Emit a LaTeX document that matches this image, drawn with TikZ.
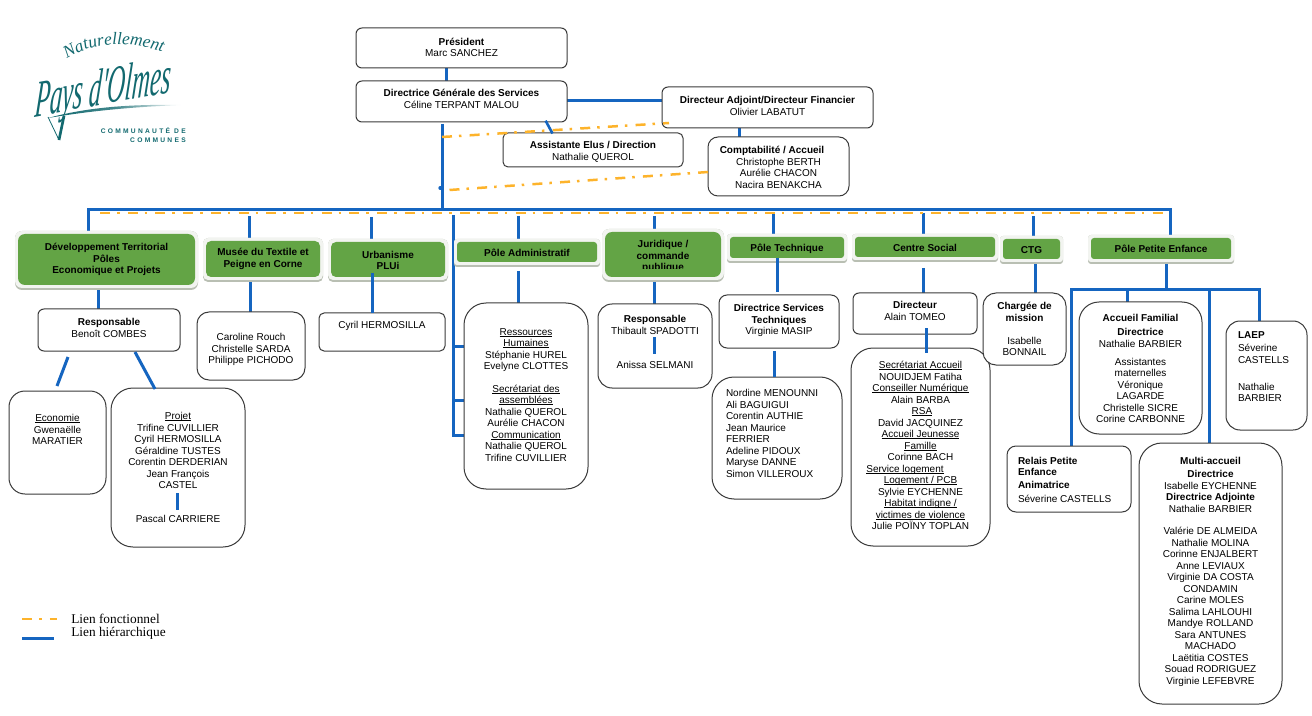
\documentclass[tikz,border=0pt]{standalone}
\usepackage{fontspec}
\setmainfont{Liberation Sans}
\newfontfamily\srf{Liberation Serif}
\usetikzlibrary{decorations.text}
\pgfdeclarelayer{bg}\pgfdeclarelayer{fg}\pgfsetlayers{bg,main,fg}
\definecolor{hblue}{HTML}{1565C0}
\definecolor{forange}{HTML}{FDB32B}
\definecolor{pgreen}{HTML}{63A445}
\definecolor{teal}{HTML}{12696F}
\definecolor{edge}{HTML}{3A3A3A}
\definecolor{halocol}{HTML}{F2F4F0}
\definecolor{shadcol}{HTML}{B9BFB3}
\newlength\pxu \pxu=.75pt
\tikzset{
 x=.75pt,y=-.75pt,
 hier/.style={draw=hblue,line width=3\pxu,line cap=butt,line join=miter},
 func/.style={draw=forange,line width=2.5\pxu,dash pattern=on 10\pxu off 7\pxu on 2.5\pxu off 8.2\pxu},
 plainb/.style={draw=edge,line width=1\pxu,fill=white,inner sep=0pt,outer sep=0pt},
 greenb/.style={fill=pgreen,inner sep=0pt,outer sep=0pt},
 halo/.style={fill=halocol},
 shad/.style={fill=shadcol},
}
\newcommand\bx[9]{%
 \pgfmathsetmacro\bw{(#5-#3)*0.75}\pgfmathsetmacro\bh{(#6-#4)*0.75}\pgfmathsetmacro\bg{(#8-#4-4.5)*0.75}%
 \node[#1,rounded corners=#7*.75pt,minimum width=\bw pt,minimum height=\bh pt] (#2) at ({(#3+#5)/2},{(#4+#6)/2})
 {\parbox[c][\bh pt][t]{\bw pt}{\fontsize{7.5}{8.625}\selectfont\lineskiplimit=-\maxdimen\parskip=0pt\vspace*{\bg pt}\centering\strut #9\par}};}
\newcommand\gb[8]{%
 \fill[shad,rounded corners=#6*.75pt] ({#2-3},{#3-3}) rectangle ({#4+3},{#5+5});
 \fill[halo,rounded corners=#6*.75pt] ({#2-3},{#3-3}) rectangle ({#4+3},{#5+3});
 \bx{greenb}{#1}{#2}{#3}{#4}{#5}{#6}{#7}{#8}}
\newcommand\lft[1]{\raggedright\leftskip=#1\pxu\relax}
\newcommand\ul[1]{\setbox0=\hbox{#1}\leavevmode\rlap{\rule[-1.3\pxu]{\wd0}{.7\pxu}}\box0 }
\begin{document}
\begin{tikzpicture}
\useasboundingbox (0,0) rectangle (1312,716);
% logo
\path[decorate,decoration={text along path,text align=center,text={|\srf\itshape\fontsize{13}{13}\selectfont\color{teal}|Naturellement}}]
 (62,62) .. controls (92,40) and (130,40) .. (168,54);
\node[text=teal,font=\srf\itshape\fontsize{39}{39}\selectfont,xscale=.48,rotate=5,xslant=.25,transform shape,inner sep=0pt] (logoP) at (103,92) {Pays d'Olmes};
\shade[left color=teal,right color=white,middle color=teal!80!white] (48,118) .. controls (85,108) and (125,104) .. (182,105) .. controls (130,107) and (90,111) .. (48,118);
\draw[teal,line width=.6pt] (48,117) -- (59,140);
\draw[teal,line width=2pt] (59,140) -- (64,116);
\node[text=teal,font=\fontsize{5}{6.6}\selectfont\bfseries\addfontfeature{LetterSpace=34},align=right,inner sep=0pt,anchor=north east] (logoC) at (186,127.5) {COMMUNAUTÉ DE\\COMMUNES};

% top boxes
\bx{plainb}{pres}{356}{28}{567}{68}{6}{41.5}{\textbf{Président}\\Marc SANCHEZ}
\bx{plainb}{dgs}{356}{81}{567}{122}{6}{93.3}{\textbf{Directrice Générale des Services}\\Céline TERPANT MALOU}
\bx{plainb}{da}{662}{87}{873}{128}{6}{100.3}{\textbf{Directeur Adjoint/Directeur Financier}\\Olivier LABATUT}
\bx{plainb}{assist}{503}{133}{683}{167}{5}{145.3}{\textbf{Assistante Elus / Direction}\\Nathalie QUEROL}
\bx{plainb}{compta}{708}{137}{849}{196}{10}{150.3}{\hspace*{-13\pxu}\textbf{Comptabilité / Accueil}\\Christophe BERTH\\Aurélie CHACON\\Nacira BENAKCHA}

% green boxes
\gb{dev}{18}{234}{195}{285}{7}{247.3}{\textbf{Développement Territorial\\Pôles\\Economique et Projets}}
\gb{musee}{206}{241}{320}{277}{5}{252.3}{\textbf{Musée du Textile et\\Peigne en Corne}}
\gb{urba}{331}{242}{445}{277}{5}{254.5}{\textbf{Urbanisme\\PLUi}}
\gb{padmin}{457}{242}{597}{262}{3}{253}{\textbf{Pôle Administratif}}
\gb{jur}{605}{232}{721}{277}{7}{244.3}{\textbf{Juridique /\\commande\\publique}}
\fill[pgreen] (612,269.3) rectangle (714,275);
\gb{ptech}{730}{237}{844}{258}{3}{248.3}{\textbf{Pôle Technique}}
\gb{csoc}{855}{237}{995}{257}{3}{248.3}{\textbf{Centre Social}}
\gb{ctg}{1003}{239}{1060}{259}{3}{250}{\textbf{CTG}}
\fill[pgreen] (1010,254) rectangle (1054,258);
\gb{ppe}{1091}{238}{1231}{259}{3}{249.3}{\textbf{Pôle Petite Enfance}}

% lower boxes
\bx{plainb}{resp}{38}{309}{180}{351}{6}{322.3}{\textbf{Responsable}\\Benoît COMBES}
\bx{plainb}{eco}{9}{391}{106}{494}{16}{418.3}{\ul{Economie}\\Gwenaëlle\\MARATIER}
\bx{plainb}{proj}{111}{388}{245}{547}{22}{416.3}{\ul{Projet}\\Trifine CUVILLIER\\Cyril HERMOSILLA\\Géraldine TUSTES\\Corentin DERDERIAN\\Jean François\\CASTEL\\[22.5\pxu]Pascal CARRIERE}
\bx{plainb}{caro}{197}{312}{305}{380}{12}{337.3}{Caroline Rouch\\Christelle SARDA\\Philippe PICHODO}
\bx{plainb}{cyril}{319}{313}{445}{351}{5}{325.3}{Cyril HERMOSILLA}
\bx{plainb}{admin}{464}{303}{588}{489}{22}{331.7}{\ul{Ressources}\\\ul{Humaines}\\Stéphanie HUREL\\Evelyne CLOTTES\\[11\pxu]\ul{Secrétariat des}\\\ul{assemblées}\\Nathalie QUEROL\\Aurélie CHACON\\\ul{Communication}\\Nathalie QUEROL\\Trifine CUVILLIER}
\bx{plainb}{jurb}{598}{304}{712}{388}{14}{319.3}{\textbf{Responsable}\\Thibault SPADOTTI\\[22.5\pxu]Anissa SELMANI}
\bx{plainb}{dirst}{719}{295}{839}{348}{8}{308.3}{\textbf{Directrice Services}\\\textbf{Techniques}\\Virginie MASIP}
\bx{plainb}{techl}{712}{377}{842}{499}{22}{393.3}{\lft{14}Nordine MENOUNNI\\Ali BAGUIGUI\\Corentin AUTHIE\\Jean Maurice\\FERRIER\\Adeline PIDOUX\\Maryse DANNE\\Simon VILLEROUX}
\bx{plainb}{dir}{853}{293}{977}{334}{6}{305.3}{\textbf{Directeur}\\Alain TOMEO}
\bx{plainb}{socl}{851}{348}{990}{546}{22}{365.3}{\ul{Secrétariat Accueil}\\NOUIDJEM Fatiha\\\ul{Conseiller Numérique}\\Alain BARBA\\\hspace*{3\pxu}\ul{RSA}\\David JACQUINEZ\\\ul{Accueil Jeunesse}\\\ul{Famille}\\Corinne BACH\\\hspace*{-31\pxu}\ul{Service logement}\\\ul{Logement / PCB}\\Sylvie EYCHENNE\\\ul{Habitat indigne /}\\\ul{victimes de violence}\\Julie POÏNY TOPLAN}
\bx{plainb}{charg}{983}{293}{1066}{365}{13}{306.3}{\textbf{Chargée de}\\\textbf{mission}\\[11.5\pxu]Isabelle\\BONNAIL}
\bx{plainb}{accf}{1079}{302}{1202}{434}{20}{318.3}{\textbf{Accueil Familial}\\[2.5\pxu]\textbf{Directrice}\\Nathalie BARBIER\\[6.5\pxu]Assistantes\\maternelles\\Véronique\\LAGARDE\\Christelle SICRE\\Corine CARBONNE}
\bx{plainb}{laep}{1226}{321}{1307}{430}{14}{335.3}{\lft{12}\textbf{LAEP}\\[1.5\pxu]Séverine\\CASTELLS\\[15.5\pxu]Nathalie\\BARBIER}
\bx{plainb}{relais}{1007}{446}{1131}{512}{9}{460.7}{\lft{11}\textbf{Relais Petite}\\\textbf{Enfance}\\[1.5\pxu]\textbf{Animatrice}\\[2\pxu]Séverine CASTELLS}
\bx{plainb}{multi}{1139}{443}{1282}{704}{23}{460.7}{\textbf{Multi-accueil}\\[2.2\pxu]\textbf{Directrice}\\Isabelle EYCHENNE\\\textbf{Directrice Adjointe}\\Nathalie BARBIER\\[11\pxu]Valérie DE ALMEIDA\\Nathalie MOLINA\\Corinne ENJALBERT\\Anne LEVIAUX\\Virginie DA COSTA\\CONDAMIN\\Carine MOLES\\Salima LAHLOUHI\\Mandye ROLLAND\\Sara ANTUNES\\MACHADO\\Laëtitia COSTES\\Souad RODRIGUEZ\\Virginie LEFEBVRE}

% legend
\node[font=\srf\fontsize{10}{12}\selectfont,anchor=west,inner sep=0pt] (legF) at (71,618.5) {Lien fonctionnel};
\node[font=\srf\fontsize{10}{12}\selectfont,anchor=west,inner sep=0pt] (legH) at (71,633.5) {Lien hiérarchique};
\coordinate (lf0) at (22,619); \coordinate (lf1) at (57,619);
\coordinate (lh0) at (22,638); \coordinate (lh1) at (54,638);
\draw[func] (lf0) -- (lf1);
\draw[hier] (lh0) -- (lh1);

% connectors
\coordinate (busL) at (88.5,209.5); \coordinate (busR) at (1170,209.5);
\coordinate (spine) at (442,124);
\coordinate (admT) at (453.5,215); \coordinate (admB) at (453.5,435);
\coordinate (ppebus) at (1166,289.5);
\coordinate (xd1) at (1071,289.5); \coordinate (xd2) at (1127,289.5); \coordinate (xd3) at (1209,289.5); \coordinate (xd4) at (1259,289.5);
\coordinate (oa1) at (442,137); \coordinate (oa2) at (669,123);
\coordinate (ob1) at (449.5,190); \coordinate (ob2) at (compta.west |- 0,172);
\coordinate (oc1) at (100,213); \coordinate (oc2) at (1168,213);
\coordinate (stA) at (545.6,120.7); \coordinate (stB) at (552.5,133.5);
\coordinate (e0) at (68,357); \coordinate (e1) at (57,386);
\coordinate (p0) at (135,352); \coordinate (p1) at (155,389);
\begin{pgfonlayer}{bg}
\draw[hier] (446,0 |- pres.south) -- (446,0 |- dgs.north);
\draw[hier] (dgs.east |- 0,101) -- (da.west |- 0,101);
\draw[hier] (spine) -- (spine |- busL);
\draw[hier] (739.5,0 |- da.south) -- (739.5,0 |- compta.north);
\draw[hier] (busL |- dev.north) -- (busL) -- (busR) -- (busR |- ppe.north);
\draw[hier] (249,216) -- (249,0 |- musee.north);
\draw[hier] (371,217) -- (371,0 |- urba.north);
\draw[hier] (518,216) -- (518,0 |- padmin.north);
\draw[hier] (654,216) -- (654,0 |- jur.north);
\draw[hier] (773,214) -- (773,0 |- ptech.north);
\draw[hier] (923,213) -- (923,0 |- csoc.north);
\draw[hier] (1033,216) -- (1033,0 |- ctg.north);
\draw[hier] (98,0 |- dev.south) -- (98,0 |- resp.north);
\draw[hier] (250,0 |- musee.south) -- (250,315);
\draw[hier] (518,271) -- (518,0 |- admin.north);
\draw[hier] (654,0 |- jur.south) -- (654,307);
\draw[hier] (923,268) -- (923,0 |- dir.north);
\draw[hier] (1035,0 |- ctg.south) -- (1035,0 |- charg.north);
\draw[hier] (admT) -- (admB) -- (admB -| admin.west);
\draw[hier] (admT |- 0,346) -- (admin.west |- 0,346);
\draw[hier] (admT |- 0,400) -- (admin.west |- 0,400);
\draw[hier] (1166,0 |- ppe.south) -- (ppebus);
\draw[hier] (xd1 |- relais.north) -- (xd1) -- (xd4) -- (xd4 |- laep.north);
\draw[hier] (xd2) -- (xd2 |- accf.north);
\draw[hier] (xd3) -- (xd3 |- multi.north);
\end{pgfonlayer}
\begin{pgfonlayer}{fg}
\draw[func] (oa1) -- (oa2);
\draw[func] (ob1) -- (ob2);
\draw[func] (oc1) -- (oc2);
\fill[hblue] (440.3,188) circle (2\pxu);
\draw[hier,line width=2.6\pxu] (stA) -- (stB);
\draw[hier] (e0) -- (e1);
\draw[hier] (p0) -- (p1);
\draw[hier] (177,493) -- (177,510);
\draw[hier] (372.7,273) -- (372.7,0 |- cyril.north);
\draw[hier] (777,0 |- ptech.south) -- (777,292);
\draw[hier] (774,351) -- (774,0 |- techl.north);
\draw[hier] (926,328) -- (926,353);
\draw[hier] (654,337) -- (654,354);
\end{pgfonlayer}
\end{tikzpicture}
\end{document}
